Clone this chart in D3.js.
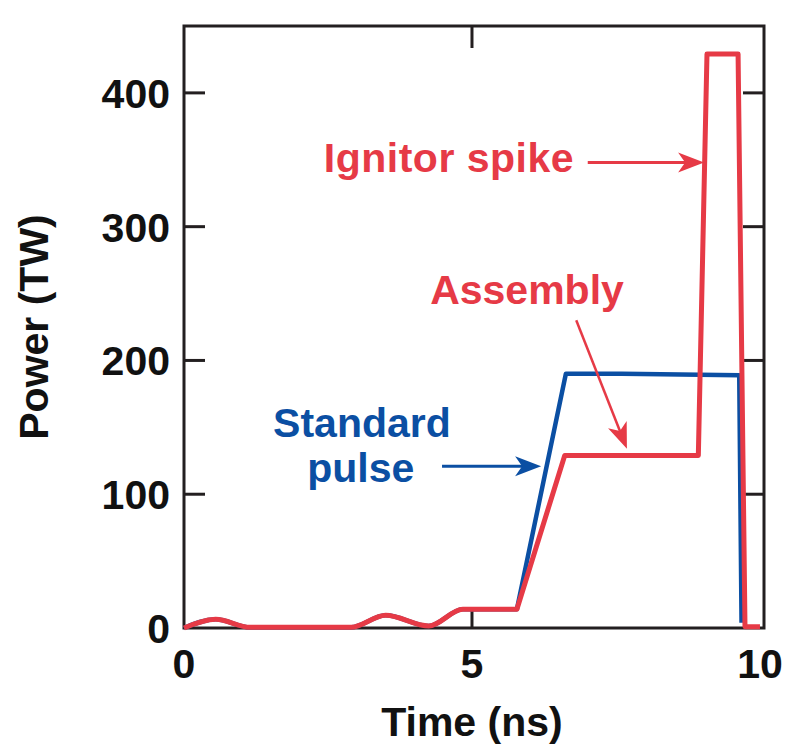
<!DOCTYPE html>
<html lang="en">
<head>
	<meta charset="UTF-8">
	<title>Power pulse</title>
	<script src="https://cdn.jsdelivr.net/npm/d3@7"></script>
	<style>
		body {
			margin: 0;
			background: #ffffff;
		}

		text {
			font-family: "Liberation Sans", Arial, Helvetica, sans-serif;
			font-weight: bold;
			font-size: 41px;
		}

		.frame {
			fill: none;
			stroke: #231f20;
			stroke-width: 3px;
		}

		.tick {
			stroke: #231f20;
			stroke-width: 3px;
		}

		.trace {
			fill: none;
			stroke-linejoin: round;
			stroke-linecap: butt;
		}
	</style>
</head>
<body>

<script>
	// values (time in ns, power in TW)
	var redTime = [0, 0.55, 1.15, 2.9, 3.5, 4.25, 4.84, 5.78, 6.61, 8.93, 9.08, 9.62, 9.74, 10.0];
	var redPower = [0, 6.5, 0.5, 0.5, 9.5, 1.5, 14, 14, 129, 129, 429, 429, 1, 1];
	var blueTime = [0, 0.55, 1.15, 2.9, 3.5, 4.25, 4.84, 5.78, 6.63, 7.6, 9.64, 9.68];
	var bluePower = [0, 6.5, 0.5, 0.5, 9.5, 1.5, 14, 14, 190, 190, 189, 4];
	var smoothCount = 8; // the first points form the soft prepulse

	var xTicks = [0, 5, 10];
	var yTicks = [0, 100, 200, 300, 400];
	var xInnerTicks = [5];
	var yInnerTicks = [100, 200, 300, 400];

	var width = 787, height = 754;
	var red = "#e63a46", blue = "#0b4fa3";

	var x = d3.scaleLinear().domain([0, 10.07]).range([184, 764]);
	var y = d3.scaleLinear().domain([0, 450]).range([628, 26]);

	var svg = d3.select("body").append("svg")
		.attr("width", width)
		.attr("height", height);

	// inward ticks on all sides
	var g = svg.append("g");
	xInnerTicks.forEach(function (t) {
		g.append("line").attr("class", "tick")
			.attr("x1", x(t)).attr("x2", x(t))
			.attr("y1", y.range()[0]).attr("y2", y.range()[0] - 20);
		g.append("line").attr("class", "tick")
			.attr("x1", x(t)).attr("x2", x(t))
			.attr("y1", y.range()[1]).attr("y2", y.range()[1] + 22);
	});
	yInnerTicks.forEach(function (v) {
		g.append("line").attr("class", "tick")
			.attr("x1", x.range()[0]).attr("x2", x.range()[0] + 21)
			.attr("y1", y(v)).attr("y2", y(v));
		g.append("line").attr("class", "tick")
			.attr("x1", x.range()[1]).attr("x2", x.range()[1] - 21)
			.attr("y1", y(v)).attr("y2", y(v));
	});

	svg.append("rect").attr("class", "frame")
		.attr("x", x.range()[0]).attr("y", y.range()[1])
		.attr("width", x.range()[1] - x.range()[0])
		.attr("height", y.range()[0] - y.range()[1]);

	function trace(times, powers) {
		var pts = times.map(function (t, i) { return [t, powers[i]]; });
		var smooth = d3.line().x(function (d) { return x(d[0]); }).y(function (d) { return y(d[1]); })
			.curve(d3.curveMonotoneX);
		var straight = d3.line().x(function (d) { return x(d[0]); }).y(function (d) { return y(d[1]); });
		var a = smooth(pts.slice(0, smoothCount));
		var b = straight(pts.slice(smoothCount - 1));
		return a + "L" + b.slice(1);
	}

	svg.append("path").attr("class", "trace")
		.attr("d", trace(blueTime, bluePower))
		.attr("stroke", blue)
		.attr("stroke-width", 4.5);

	svg.append("path").attr("class", "trace")
		.attr("d", trace(redTime, redPower))
		.attr("stroke", red)
		.attr("stroke-width", 5);

	// tick labels
	svg.selectAll(".xlab")
		.data(xTicks)
		.enter().append("text")
		.attr("x", function (d) { return x(d); })
		.attr("y", 678)
		.attr("text-anchor", "middle")
		.attr("fill", "#111")
		.text(function (d) { return d; });

	svg.selectAll(".ylab")
		.data(yTicks)
		.enter().append("text")
		.attr("x", 170)
		.attr("y", function (d) { return y(d) + 15; })
		.attr("text-anchor", "end")
		.attr("fill", "#111")
		.text(function (d) { return d; });

	svg.append("text")
		.attr("x", x(5))
		.attr("y", 736)
		.attr("text-anchor", "middle")
		.attr("font-size", 42)
		.attr("fill", "#111")
		.text("Time (ns)");

	svg.append("text")
		.attr("transform", "translate(48," + y(225) + ") rotate(-90)")
		.attr("text-anchor", "middle")
		.attr("fill", "#111")
		.text("Power (TW)");

	// annotations
	function arrow(t0, p0, t1, p1, color, w) {
		var x0 = x(t0), y0 = y(p0), x1 = x(t1), y1 = y(p1);
		var ang = Math.atan2(y1 - y0, x1 - x0);
		var len = Math.hypot(x1 - x0, y1 - y0);
		var a = svg.append("g")
			.attr("transform", "translate(" + x0 + "," + y0 + ") rotate(" + ang * 180 / Math.PI + ")");
		a.append("line")
			.attr("x1", 0).attr("y1", 0)
			.attr("x2", len - 18).attr("y2", 0)
			.attr("stroke", color).attr("stroke-width", w);
		a.append("path")
			.attr("d", "M" + len + ",0L" + (len - 26) + ",-10L" + (len - 19) + ",0L" + (len - 26) + ",10Z")
			.attr("fill", color);
	}

	svg.append("text")
		.attr("x", x(4.60)).attr("y", y(341))
		.attr("text-anchor", "middle")
		.attr("letter-spacing", 0.5)
		.attr("fill", red)
		.text("Ignitor spike");
	arrow(7.01, 348, 9.03, 348, red, 3);

	svg.append("text")
		.attr("x", x(5.955)).attr("y", y(242))
		.attr("text-anchor", "middle")
		.attr("fill", red)
		.text("Assembly");
	arrow(6.81, 230, 7.69, 134, red, 2.5);

	svg.append("text")
		.attr("x", x(3.09)).attr("y", y(143))
		.attr("text-anchor", "middle")
		.attr("fill", blue)
		.text("Standard");
	svg.append("text")
		.attr("x", x(3.07)).attr("y", y(109))
		.attr("text-anchor", "middle")
		.attr("fill", blue)
		.text("pulse");
	arrow(4.48, 121, 6.2, 121, blue, 3);
</script>

</body>
</html>
